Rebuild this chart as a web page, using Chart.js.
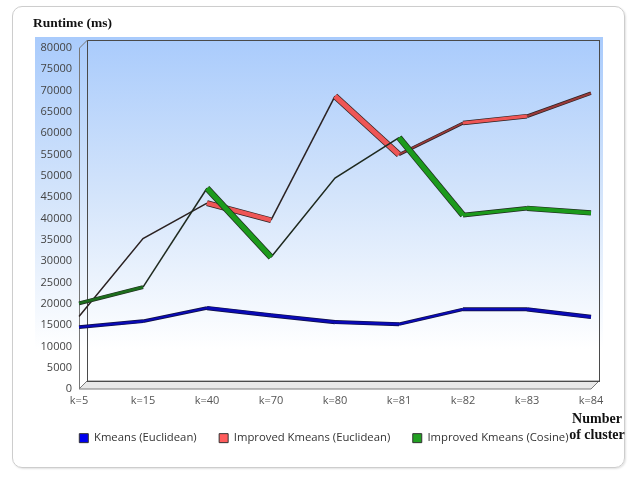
<!DOCTYPE html>
<html>
<head>
<meta charset="utf-8">
<title>Runtime</title>
<script src="https://cdn.jsdelivr.net/npm/chart.js@4.4.1/dist/chart.umd.min.js"></script>
<style>
  html, body { margin: 0; padding: 0; background: #fff; }
  #wrap { position: relative; width: 628px; height: 477px; overflow: hidden; }
  .card {
    position: absolute; left: 12px; top: 6px; width: 611px; height: 460px;
    border: 1px solid #cdcdcd; border-radius: 10px;
    box-shadow: 1px 1px 2px rgba(0, 0, 0, 0.12);
  }
  #runtime { position: absolute; left: 0; top: 0; }
  .xname {
    position: absolute; left: 566px; top: 411px; width: 62px;
    text-align: center; font: bold 14px "Liberation Serif", serif;
    line-height: 16px; color: #111;
  }
</style>
</head>
<body>
<div id="wrap">
  <div class="card"></div>
  <canvas id="runtime" width="628" height="477"></canvas>
  <div class="xname">Number<br>of cluster</div>
</div>
<script>
// runtime in ms per number of clusters
const clusters = ["k=5", "k=15", "k=40", "k=70", "k=80", "k=81", "k=82", "k=83", "k=84"];
const kmeansEuclidean = [14500, 15900, 19000, 17300, 15700, 15200, 18700, 18700, 16900];
const improvedEuclidean = [17000, 35300, 43600, 39600, 68700, 55000, 62400, 64000, 69400];
const improvedCosine = [20100, 23900, 47100, 30900, 49500, 59000, 40800, 42400, 41300];
const yTicks = { min: 0, max: 80000, step: 5000 };

const DEPTH = 8; // 3d offset of the back wall
const MIN_FACE = 1.6; // below this only the ribbon edge shows

// visible face of a ribbon segment, depends on its slope on screen
function faceWidth(ctx, base) {
  const dx = ctx.p1.x - ctx.p0.x;
  const dy = ctx.p1.y - ctx.p0.y;
  const len = Math.hypot(dx, dy) || 1;
  return base * Math.abs(dx + dy) / len;
}

function rising(ctx) {
  const dx = ctx.p1.x - ctx.p0.x;
  const dy = ctx.p1.y - ctx.p0.y;
  return dy / (Math.hypot(dx, dy) || 1) < -0.17;
}

function ribbon(label, data, color, shade, base, outline) {
  const face = {
    label: label,
    data: data,
    backgroundColor: color,
    borderColor: "#333",
    borderWidth: 1,
    pointRadius: 0,
    tension: 0,
    segment: {
      borderColor: (ctx) => {
        if (faceWidth(ctx, base) < MIN_FACE) return "rgba(0,0,0,0)";
        return rising(ctx) ? shade : color;
      },
      borderWidth: (ctx) => faceWidth(ctx, base),
    },
  };
  const edge = {
    label: "",
    data: data,
    borderColor: outline,
    borderWidth: 1.5,
    pointRadius: 0,
    tension: 0,
    segment: {
      borderWidth: (ctx) => {
        const w = faceWidth(ctx, base);
        return w < MIN_FACE ? 1.5 : w + 1.4;
      },
    },
  };
  return [face, edge];
}

// blue background panel and the 3d box frame
const frame3d = {
  id: "frame3d",
  beforeDraw(chart) {
    const { ctx, chartArea: a } = chart;
    ctx.save();
    const g = ctx.createLinearGradient(0, a.top - 11, 0, a.bottom - 40);
    g.addColorStop(0, "#a9cbfc");
    g.addColorStop(0.5, "#d3e4fb");
    g.addColorStop(1, "#ffffff");
    ctx.fillStyle = g;
    ctx.fillRect(a.left - 44, a.top - 11, a.right - a.left + 56, a.bottom - a.top + 11);
    ctx.restore();
  },
  beforeDatasetsDraw(chart) {
    const { ctx, chartArea: a } = chart;
    const d = DEPTH;
    ctx.save();
    // floor
    ctx.beginPath();
    ctx.moveTo(a.left, a.bottom);
    ctx.lineTo(a.left + d, a.bottom - d);
    ctx.lineTo(a.right + d, a.bottom - d);
    ctx.lineTo(a.right, a.bottom);
    ctx.closePath();
    ctx.fillStyle = "#e8e8e8";
    ctx.fill();
    ctx.strokeStyle = "#7a7a7a";
    ctx.lineWidth = 1;
    ctx.stroke();
    // back wall
    ctx.strokeStyle = "#4a4a4a";
    ctx.strokeRect(a.left + d + 0.5, a.top - d + 0.5, a.right - a.left, a.bottom - a.top);
    // left wall edges
    ctx.strokeStyle = "#777";
    ctx.beginPath();
    ctx.moveTo(a.left + 0.5, a.bottom);
    ctx.lineTo(a.left + 0.5, a.top);
    ctx.lineTo(a.left + d + 0.5, a.top - d);
    ctx.stroke();
    ctx.restore();
  },
};

const datasets = [
  ...ribbon("Improved Kmeans (Cosine)", improvedCosine, "#1c9a1c", "#1d6d1d", 3.6, "#1f2a1f"),
  ...ribbon("Improved Kmeans (Euclidean)", improvedEuclidean, "#ee5656", "#9a3a3a", 3.6, "#2b2222"),
  ...ribbon("Kmeans (Euclidean)", kmeansEuclidean, "#0a0ab4", "#0a0ab4", 2.6, "#101040"),
];
// legend swatch colours
datasets[0].backgroundColor = "#22a022";
datasets[2].backgroundColor = "#ff5c5c";
datasets[4].backgroundColor = "#0000f0";

new Chart(document.getElementById("runtime"), {
  type: "line",
  data: { labels: clusters, datasets: datasets },
  plugins: [frame3d],
  options: {
    responsive: false,
    animation: false,
    layout: { padding: { left: 33, right: 37, top: 0, bottom: 23.2 } },
    plugins: {
      title: {
        display: true,
        text: "Runtime (ms)",
        align: "start",
        color: "#111",
        font: { family: "'Liberation Serif', serif", size: 13.5, weight: "bold" },
        padding: { top: 15, bottom: 16.8 },
      },
      legend: {
        position: "bottom",
        align: "end",
        labels: {
          filter: (item) => item.text !== "",
          sort: (a, b) => b.datasetIndex - a.datasetIndex,
          boxWidth: 9,
          boxHeight: 9,
          padding: 22.5,
          color: "#333",
          font: { family: "'Open Sans', sans-serif", size: 11.3 },
        },
      },
      tooltip: { enabled: false },
    },
    scales: {
      x: {
        grid: { display: false, drawTicks: false },
        border: { display: false },
        ticks: {
          color: "#555",
          padding: 5,
          maxRotation: 0,
          font: { family: "'Open Sans', sans-serif", size: 11 },
        },
        afterFit: (scale) => { scale.height = 21; },
      },
      y: {
        min: yTicks.min,
        max: yTicks.max,
        grid: { display: false, drawTicks: false },
        border: { display: false },
        ticks: {
          stepSize: yTicks.step,
          color: "#444",
          padding: 7,
          font: { family: "'Open Sans', sans-serif", size: 11 },
          callback: (v) => String(v),
        },
        afterFit: (scale) => { scale.width = 46; },
      },
    },
  },
});
</script>
</body>
</html>
